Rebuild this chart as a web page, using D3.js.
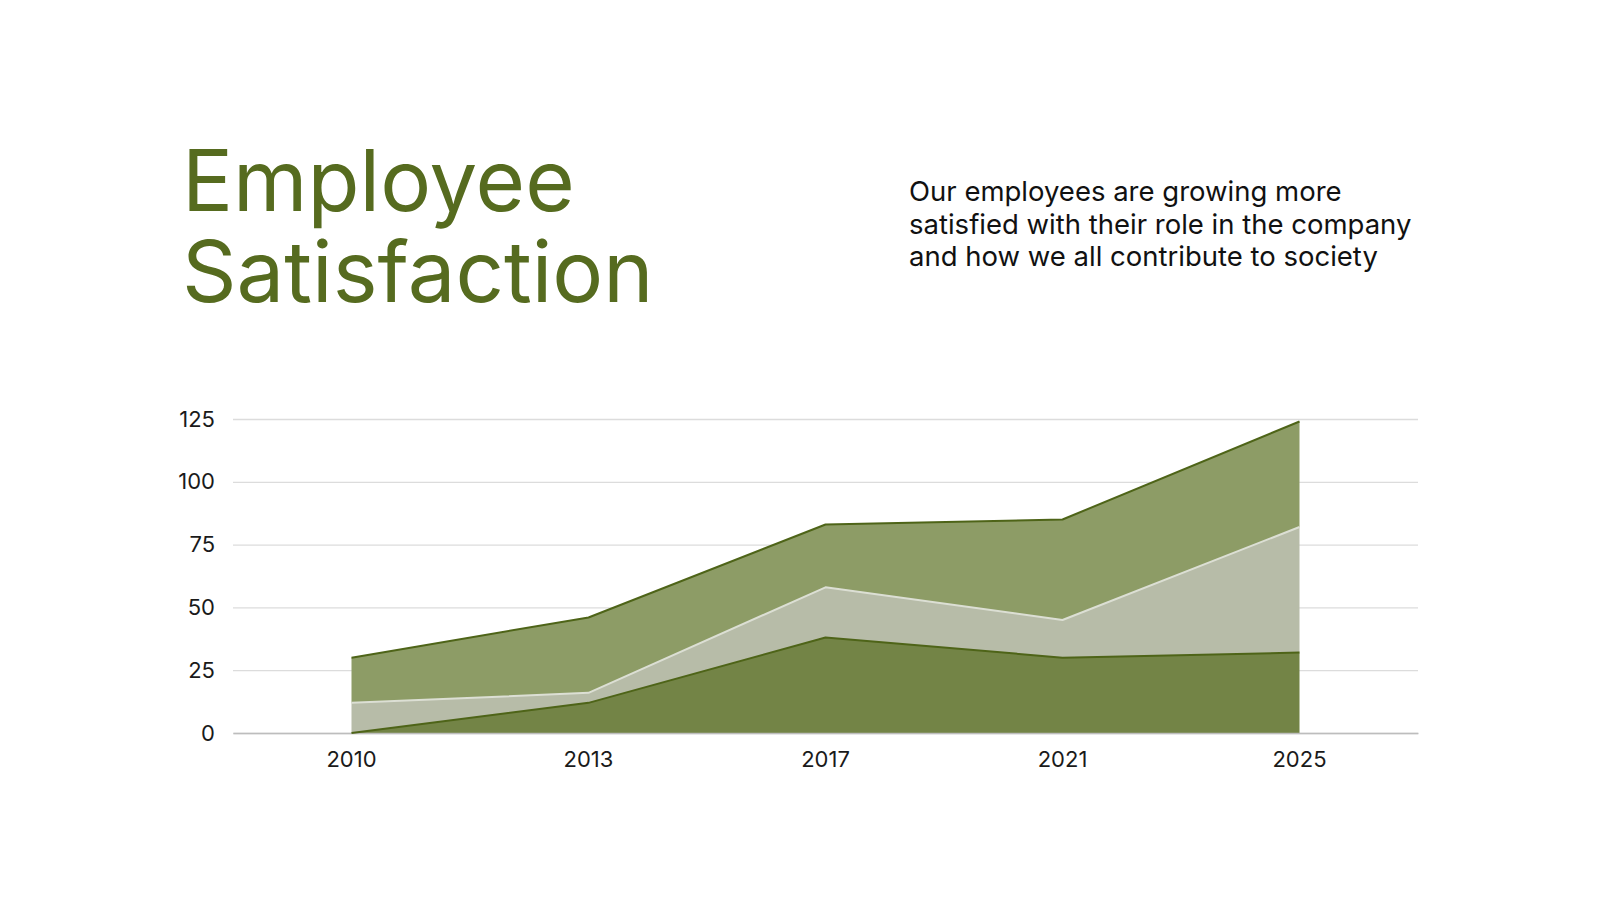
<!DOCTYPE html>
<html>
<head>
<meta charset="utf-8">
<script src="https://cdn.jsdelivr.net/npm/d3@7"></script>
<style>
  body { margin: 0; background: #fff; }
  text { font-family: "Inter", "Roboto", sans-serif; }
</style>
</head>
<body>
<script>
var years = ["2010", "2013", "2017", "2021", "2025"];
var baseSeries = [0, 12, 38, 30, 32];
var midSeries = [12, 4, 20, 15, 50];
var topSeries = [18, 30, 25, 40, 42];
var yTicks = [0, 25, 50, 75, 100, 125];

var svg = d3.select("body").append("svg")
    .attr("width", 1600)
    .attr("height", 900);

svg.append("text")
    .attr("x", 182).attr("y", 211)
    .attr("fill", "#566b1f")
    .attr("font-size", 85)
    .text("Employee");
svg.append("text")
    .attr("x", 182).attr("y", 302)
    .attr("fill", "#566b1f")
    .attr("font-size", 85)
    .text("Satisfaction");

var blurb = ["Our employees are growing more",
  "satisfied with their role in the company",
  "and how we all contribute to society"];
svg.append("g").selectAll("text")
  .data(blurb)
  .enter().append("text")
    .attr("x", 909)
    .attr("y", 201)
    .attr("dy", function(d, i) { return i * 32.5; })
    .attr("fill", "#111")
    .attr("font-size", 27.5)
    .text(function(d) { return d; });

var margin = {top: 419, left: 233},
    width = 1185,
    height = 314,
    g = svg.append("g").attr("transform", "translate(" + margin.left + "," + margin.top + ")");

var x = d3.scaleBand()
    .domain(years)
    .range([0, width])
    .padding(0);

var y = d3.scaleLinear()
    .domain([0, 125])
    .range([height, 0]);

// gridlines
g.append("g")
    .call(d3.axisLeft(y).tickValues(yTicks).tickSize(-width).tickPadding(18))
    .call(function(a) {
      a.select(".domain").remove();
      a.selectAll(".tick line").attr("stroke", "#dcdcdc").attr("stroke-width", 1.3);
      a.selectAll(".tick text").attr("font-size", 22).attr("fill", "#1a1a1a")
        .style("font-family", "Inter, Roboto, sans-serif");
    });

var data = years.map(function(yr, i) {
  return {year: yr, base: baseSeries[i], mid: midSeries[i], top: topSeries[i]};
});

var stack = d3.stack().keys(["base", "mid", "top"]);
var layers = stack(data);

var fills = {base: "#738446", mid: "#b7bca8", top: "#8d9c66"};
var strokes = {base: "#4e6418", mid: "#dcdfd4", top: "#4e6418"};

var cx = function(d) { return x(d.data.year) + x.bandwidth() / 2; };

var area = d3.area()
    .x(cx)
    .y0(function(d) { return y(d[0]); })
    .y1(function(d) { return y(d[1]); });

var line = d3.line()
    .x(cx)
    .y(function(d) { return y(d[1]); });

g.selectAll(".layer")
  .data(layers)
  .enter().append("path")
    .attr("class", "layer")
    .attr("fill", function(d) { return fills[d.key]; })
    .attr("d", area);

// x axis baseline
g.append("g")
    .attr("transform", "translate(0," + height + ")")
    .call(d3.axisBottom(x).tickSize(0).tickPadding(18))
    .call(function(a) {
      a.select(".domain").attr("stroke", "#bdbdbd").attr("stroke-width", 1.5);
      a.selectAll(".tick text").attr("font-size", 22).attr("fill", "#1a1a1a")
        .style("font-family", "Inter, Roboto, sans-serif");
    });

g.selectAll(".edge")
  .data(layers)
  .enter().append("path")
    .attr("class", "edge")
    .attr("fill", "none")
    .attr("stroke", function(d) { return strokes[d.key]; })
    .attr("stroke-width", 2)
    .attr("stroke-linejoin", "round")
    .attr("d", line);
</script>
</body>
</html>
